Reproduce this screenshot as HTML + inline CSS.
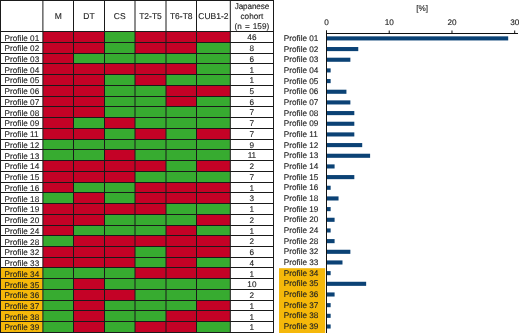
<!DOCTYPE html>
<html><head><meta charset="utf-8"><style>
html,body{margin:0;padding:0;background:#fff;}
body{width:520px;height:333px;overflow:hidden;}
svg{display:block;will-change:transform;}
text{font-family:"Liberation Sans",sans-serif;font-size:8.2px;fill:#222;stroke:#222;stroke-width:0.12px;text-rendering:geometricPrecision;}
</style></head><body>
<svg width="520" height="333" viewBox="0 0 520 333">
<g>
<rect width="520" height="333" fill="#fff"/>
<rect x="0.5" y="31.7" width="42.4" height="10.74" fill="#fff"/>
<rect x="42.9" y="31.7" width="30.6" height="10.74" fill="#c40226"/>
<rect x="73.5" y="31.7" width="31" height="10.74" fill="#c40226"/>
<rect x="104.5" y="31.7" width="30.5" height="10.74" fill="#37ab30"/>
<rect x="135" y="31.7" width="31" height="10.74" fill="#c40226"/>
<rect x="166" y="31.7" width="30.5" height="10.74" fill="#c40226"/>
<rect x="196.5" y="31.7" width="33.8" height="10.74" fill="#c40226"/>
<rect x="0.5" y="42.44" width="42.4" height="10.74" fill="#fff"/>
<rect x="42.9" y="42.44" width="30.6" height="10.74" fill="#c40226"/>
<rect x="73.5" y="42.44" width="31" height="10.74" fill="#c40226"/>
<rect x="104.5" y="42.44" width="30.5" height="10.74" fill="#37ab30"/>
<rect x="135" y="42.44" width="31" height="10.74" fill="#c40226"/>
<rect x="166" y="42.44" width="30.5" height="10.74" fill="#c40226"/>
<rect x="196.5" y="42.44" width="33.8" height="10.74" fill="#37ab30"/>
<rect x="0.5" y="53.18" width="42.4" height="10.74" fill="#fff"/>
<rect x="42.9" y="53.18" width="30.6" height="10.74" fill="#c40226"/>
<rect x="73.5" y="53.18" width="31" height="10.74" fill="#37ab30"/>
<rect x="104.5" y="53.18" width="30.5" height="10.74" fill="#37ab30"/>
<rect x="135" y="53.18" width="31" height="10.74" fill="#37ab30"/>
<rect x="166" y="53.18" width="30.5" height="10.74" fill="#37ab30"/>
<rect x="196.5" y="53.18" width="33.8" height="10.74" fill="#37ab30"/>
<rect x="0.5" y="63.92" width="42.4" height="10.74" fill="#fff"/>
<rect x="42.9" y="63.92" width="30.6" height="10.74" fill="#c40226"/>
<rect x="73.5" y="63.92" width="31" height="10.74" fill="#c40226"/>
<rect x="104.5" y="63.92" width="30.5" height="10.74" fill="#c40226"/>
<rect x="135" y="63.92" width="31" height="10.74" fill="#c40226"/>
<rect x="166" y="63.92" width="30.5" height="10.74" fill="#c40226"/>
<rect x="196.5" y="63.92" width="33.8" height="10.74" fill="#37ab30"/>
<rect x="0.5" y="74.66" width="42.4" height="10.74" fill="#fff"/>
<rect x="42.9" y="74.66" width="30.6" height="10.74" fill="#c40226"/>
<rect x="73.5" y="74.66" width="31" height="10.74" fill="#c40226"/>
<rect x="104.5" y="74.66" width="30.5" height="10.74" fill="#37ab30"/>
<rect x="135" y="74.66" width="31" height="10.74" fill="#c40226"/>
<rect x="166" y="74.66" width="30.5" height="10.74" fill="#37ab30"/>
<rect x="196.5" y="74.66" width="33.8" height="10.74" fill="#37ab30"/>
<rect x="0.5" y="85.4" width="42.4" height="10.74" fill="#fff"/>
<rect x="42.9" y="85.4" width="30.6" height="10.74" fill="#c40226"/>
<rect x="73.5" y="85.4" width="31" height="10.74" fill="#c40226"/>
<rect x="104.5" y="85.4" width="30.5" height="10.74" fill="#37ab30"/>
<rect x="135" y="85.4" width="31" height="10.74" fill="#37ab30"/>
<rect x="166" y="85.4" width="30.5" height="10.74" fill="#c40226"/>
<rect x="196.5" y="85.4" width="33.8" height="10.74" fill="#c40226"/>
<rect x="0.5" y="96.14" width="42.4" height="10.74" fill="#fff"/>
<rect x="42.9" y="96.14" width="30.6" height="10.74" fill="#c40226"/>
<rect x="73.5" y="96.14" width="31" height="10.74" fill="#c40226"/>
<rect x="104.5" y="96.14" width="30.5" height="10.74" fill="#37ab30"/>
<rect x="135" y="96.14" width="31" height="10.74" fill="#37ab30"/>
<rect x="166" y="96.14" width="30.5" height="10.74" fill="#c40226"/>
<rect x="196.5" y="96.14" width="33.8" height="10.74" fill="#37ab30"/>
<rect x="0.5" y="106.88" width="42.4" height="10.74" fill="#fff"/>
<rect x="42.9" y="106.88" width="30.6" height="10.74" fill="#c40226"/>
<rect x="73.5" y="106.88" width="31" height="10.74" fill="#c40226"/>
<rect x="104.5" y="106.88" width="30.5" height="10.74" fill="#37ab30"/>
<rect x="135" y="106.88" width="31" height="10.74" fill="#37ab30"/>
<rect x="166" y="106.88" width="30.5" height="10.74" fill="#37ab30"/>
<rect x="196.5" y="106.88" width="33.8" height="10.74" fill="#37ab30"/>
<rect x="0.5" y="117.62" width="42.4" height="10.74" fill="#fff"/>
<rect x="42.9" y="117.62" width="30.6" height="10.74" fill="#c40226"/>
<rect x="73.5" y="117.62" width="31" height="10.74" fill="#37ab30"/>
<rect x="104.5" y="117.62" width="30.5" height="10.74" fill="#c40226"/>
<rect x="135" y="117.62" width="31" height="10.74" fill="#37ab30"/>
<rect x="166" y="117.62" width="30.5" height="10.74" fill="#37ab30"/>
<rect x="196.5" y="117.62" width="33.8" height="10.74" fill="#37ab30"/>
<rect x="0.5" y="128.36" width="42.4" height="10.74" fill="#fff"/>
<rect x="42.9" y="128.36" width="30.6" height="10.74" fill="#c40226"/>
<rect x="73.5" y="128.36" width="31" height="10.74" fill="#c40226"/>
<rect x="104.5" y="128.36" width="30.5" height="10.74" fill="#37ab30"/>
<rect x="135" y="128.36" width="31" height="10.74" fill="#c40226"/>
<rect x="166" y="128.36" width="30.5" height="10.74" fill="#37ab30"/>
<rect x="196.5" y="128.36" width="33.8" height="10.74" fill="#c40226"/>
<rect x="0.5" y="139.1" width="42.4" height="10.74" fill="#fff"/>
<rect x="42.9" y="139.1" width="30.6" height="10.74" fill="#37ab30"/>
<rect x="73.5" y="139.1" width="31" height="10.74" fill="#37ab30"/>
<rect x="104.5" y="139.1" width="30.5" height="10.74" fill="#37ab30"/>
<rect x="135" y="139.1" width="31" height="10.74" fill="#37ab30"/>
<rect x="166" y="139.1" width="30.5" height="10.74" fill="#37ab30"/>
<rect x="196.5" y="139.1" width="33.8" height="10.74" fill="#37ab30"/>
<rect x="0.5" y="149.84" width="42.4" height="10.74" fill="#fff"/>
<rect x="42.9" y="149.84" width="30.6" height="10.74" fill="#37ab30"/>
<rect x="73.5" y="149.84" width="31" height="10.74" fill="#37ab30"/>
<rect x="104.5" y="149.84" width="30.5" height="10.74" fill="#c40226"/>
<rect x="135" y="149.84" width="31" height="10.74" fill="#37ab30"/>
<rect x="166" y="149.84" width="30.5" height="10.74" fill="#37ab30"/>
<rect x="196.5" y="149.84" width="33.8" height="10.74" fill="#37ab30"/>
<rect x="0.5" y="160.58" width="42.4" height="10.74" fill="#fff"/>
<rect x="42.9" y="160.58" width="30.6" height="10.74" fill="#c40226"/>
<rect x="73.5" y="160.58" width="31" height="10.74" fill="#c40226"/>
<rect x="104.5" y="160.58" width="30.5" height="10.74" fill="#c40226"/>
<rect x="135" y="160.58" width="31" height="10.74" fill="#c40226"/>
<rect x="166" y="160.58" width="30.5" height="10.74" fill="#37ab30"/>
<rect x="196.5" y="160.58" width="33.8" height="10.74" fill="#c40226"/>
<rect x="0.5" y="171.32" width="42.4" height="10.74" fill="#fff"/>
<rect x="42.9" y="171.32" width="30.6" height="10.74" fill="#c40226"/>
<rect x="73.5" y="171.32" width="31" height="10.74" fill="#c40226"/>
<rect x="104.5" y="171.32" width="30.5" height="10.74" fill="#c40226"/>
<rect x="135" y="171.32" width="31" height="10.74" fill="#37ab30"/>
<rect x="166" y="171.32" width="30.5" height="10.74" fill="#37ab30"/>
<rect x="196.5" y="171.32" width="33.8" height="10.74" fill="#37ab30"/>
<rect x="0.5" y="182.06" width="42.4" height="10.74" fill="#fff"/>
<rect x="42.9" y="182.06" width="30.6" height="10.74" fill="#c40226"/>
<rect x="73.5" y="182.06" width="31" height="10.74" fill="#37ab30"/>
<rect x="104.5" y="182.06" width="30.5" height="10.74" fill="#37ab30"/>
<rect x="135" y="182.06" width="31" height="10.74" fill="#c40226"/>
<rect x="166" y="182.06" width="30.5" height="10.74" fill="#c40226"/>
<rect x="196.5" y="182.06" width="33.8" height="10.74" fill="#c40226"/>
<rect x="0.5" y="192.8" width="42.4" height="10.74" fill="#fff"/>
<rect x="42.9" y="192.8" width="30.6" height="10.74" fill="#37ab30"/>
<rect x="73.5" y="192.8" width="31" height="10.74" fill="#c40226"/>
<rect x="104.5" y="192.8" width="30.5" height="10.74" fill="#37ab30"/>
<rect x="135" y="192.8" width="31" height="10.74" fill="#c40226"/>
<rect x="166" y="192.8" width="30.5" height="10.74" fill="#c40226"/>
<rect x="196.5" y="192.8" width="33.8" height="10.74" fill="#c40226"/>
<rect x="0.5" y="203.54" width="42.4" height="10.74" fill="#fff"/>
<rect x="42.9" y="203.54" width="30.6" height="10.74" fill="#c40226"/>
<rect x="73.5" y="203.54" width="31" height="10.74" fill="#c40226"/>
<rect x="104.5" y="203.54" width="30.5" height="10.74" fill="#c40226"/>
<rect x="135" y="203.54" width="31" height="10.74" fill="#c40226"/>
<rect x="166" y="203.54" width="30.5" height="10.74" fill="#37ab30"/>
<rect x="196.5" y="203.54" width="33.8" height="10.74" fill="#37ab30"/>
<rect x="0.5" y="214.28" width="42.4" height="10.74" fill="#fff"/>
<rect x="42.9" y="214.28" width="30.6" height="10.74" fill="#c40226"/>
<rect x="73.5" y="214.28" width="31" height="10.74" fill="#c40226"/>
<rect x="104.5" y="214.28" width="30.5" height="10.74" fill="#37ab30"/>
<rect x="135" y="214.28" width="31" height="10.74" fill="#37ab30"/>
<rect x="166" y="214.28" width="30.5" height="10.74" fill="#37ab30"/>
<rect x="196.5" y="214.28" width="33.8" height="10.74" fill="#c40226"/>
<rect x="0.5" y="225.02" width="42.4" height="10.74" fill="#fff"/>
<rect x="42.9" y="225.02" width="30.6" height="10.74" fill="#c40226"/>
<rect x="73.5" y="225.02" width="31" height="10.74" fill="#37ab30"/>
<rect x="104.5" y="225.02" width="30.5" height="10.74" fill="#37ab30"/>
<rect x="135" y="225.02" width="31" height="10.74" fill="#37ab30"/>
<rect x="166" y="225.02" width="30.5" height="10.74" fill="#c40226"/>
<rect x="196.5" y="225.02" width="33.8" height="10.74" fill="#37ab30"/>
<rect x="0.5" y="235.76" width="42.4" height="10.74" fill="#fff"/>
<rect x="42.9" y="235.76" width="30.6" height="10.74" fill="#37ab30"/>
<rect x="73.5" y="235.76" width="31" height="10.74" fill="#c40226"/>
<rect x="104.5" y="235.76" width="30.5" height="10.74" fill="#c40226"/>
<rect x="135" y="235.76" width="31" height="10.74" fill="#c40226"/>
<rect x="166" y="235.76" width="30.5" height="10.74" fill="#c40226"/>
<rect x="196.5" y="235.76" width="33.8" height="10.74" fill="#c40226"/>
<rect x="0.5" y="246.5" width="42.4" height="10.74" fill="#fff"/>
<rect x="42.9" y="246.5" width="30.6" height="10.74" fill="#c40226"/>
<rect x="73.5" y="246.5" width="31" height="10.74" fill="#c40226"/>
<rect x="104.5" y="246.5" width="30.5" height="10.74" fill="#c40226"/>
<rect x="135" y="246.5" width="31" height="10.74" fill="#37ab30"/>
<rect x="166" y="246.5" width="30.5" height="10.74" fill="#c40226"/>
<rect x="196.5" y="246.5" width="33.8" height="10.74" fill="#c40226"/>
<rect x="0.5" y="257.24" width="42.4" height="10.74" fill="#fff"/>
<rect x="42.9" y="257.24" width="30.6" height="10.74" fill="#c40226"/>
<rect x="73.5" y="257.24" width="31" height="10.74" fill="#c40226"/>
<rect x="104.5" y="257.24" width="30.5" height="10.74" fill="#c40226"/>
<rect x="135" y="257.24" width="31" height="10.74" fill="#37ab30"/>
<rect x="166" y="257.24" width="30.5" height="10.74" fill="#c40226"/>
<rect x="196.5" y="257.24" width="33.8" height="10.74" fill="#37ab30"/>
<rect x="0.5" y="267.98" width="42.4" height="10.74" fill="#f5b80a"/>
<rect x="42.9" y="267.98" width="30.6" height="10.74" fill="#37ab30"/>
<rect x="73.5" y="267.98" width="31" height="10.74" fill="#37ab30"/>
<rect x="104.5" y="267.98" width="30.5" height="10.74" fill="#37ab30"/>
<rect x="135" y="267.98" width="31" height="10.74" fill="#c40226"/>
<rect x="166" y="267.98" width="30.5" height="10.74" fill="#c40226"/>
<rect x="196.5" y="267.98" width="33.8" height="10.74" fill="#c40226"/>
<rect x="0.5" y="278.72" width="42.4" height="10.74" fill="#f5b80a"/>
<rect x="42.9" y="278.72" width="30.6" height="10.74" fill="#37ab30"/>
<rect x="73.5" y="278.72" width="31" height="10.74" fill="#c40226"/>
<rect x="104.5" y="278.72" width="30.5" height="10.74" fill="#37ab30"/>
<rect x="135" y="278.72" width="31" height="10.74" fill="#37ab30"/>
<rect x="166" y="278.72" width="30.5" height="10.74" fill="#37ab30"/>
<rect x="196.5" y="278.72" width="33.8" height="10.74" fill="#37ab30"/>
<rect x="0.5" y="289.46" width="42.4" height="10.74" fill="#f5b80a"/>
<rect x="42.9" y="289.46" width="30.6" height="10.74" fill="#37ab30"/>
<rect x="73.5" y="289.46" width="31" height="10.74" fill="#c40226"/>
<rect x="104.5" y="289.46" width="30.5" height="10.74" fill="#c40226"/>
<rect x="135" y="289.46" width="31" height="10.74" fill="#37ab30"/>
<rect x="166" y="289.46" width="30.5" height="10.74" fill="#37ab30"/>
<rect x="196.5" y="289.46" width="33.8" height="10.74" fill="#37ab30"/>
<rect x="0.5" y="300.2" width="42.4" height="10.74" fill="#f5b80a"/>
<rect x="42.9" y="300.2" width="30.6" height="10.74" fill="#37ab30"/>
<rect x="73.5" y="300.2" width="31" height="10.74" fill="#c40226"/>
<rect x="104.5" y="300.2" width="30.5" height="10.74" fill="#37ab30"/>
<rect x="135" y="300.2" width="31" height="10.74" fill="#37ab30"/>
<rect x="166" y="300.2" width="30.5" height="10.74" fill="#37ab30"/>
<rect x="196.5" y="300.2" width="33.8" height="10.74" fill="#c40226"/>
<rect x="0.5" y="310.94" width="42.4" height="10.74" fill="#f5b80a"/>
<rect x="42.9" y="310.94" width="30.6" height="10.74" fill="#37ab30"/>
<rect x="73.5" y="310.94" width="31" height="10.74" fill="#c40226"/>
<rect x="104.5" y="310.94" width="30.5" height="10.74" fill="#37ab30"/>
<rect x="135" y="310.94" width="31" height="10.74" fill="#37ab30"/>
<rect x="166" y="310.94" width="30.5" height="10.74" fill="#c40226"/>
<rect x="196.5" y="310.94" width="33.8" height="10.74" fill="#c40226"/>
<rect x="0.5" y="321.68" width="42.4" height="10.74" fill="#f5b80a"/>
<rect x="42.9" y="321.68" width="30.6" height="10.74" fill="#37ab30"/>
<rect x="73.5" y="321.68" width="31" height="10.74" fill="#c40226"/>
<rect x="104.5" y="321.68" width="30.5" height="10.74" fill="#37ab30"/>
<rect x="135" y="321.68" width="31" height="10.74" fill="#c40226"/>
<rect x="166" y="321.68" width="30.5" height="10.74" fill="#c40226"/>
<rect x="196.5" y="321.68" width="33.8" height="10.74" fill="#37ab30"/>
<line x1="0" x2="274" y1="31.5" y2="31.5" stroke="#1a1a1a" stroke-width="1"/>
<line x1="0" x2="274" y1="42.5" y2="42.5" stroke="#1a1a1a" stroke-width="1"/>
<line x1="0" x2="274" y1="53.5" y2="53.5" stroke="#1a1a1a" stroke-width="1"/>
<line x1="0" x2="274" y1="63.5" y2="63.5" stroke="#1a1a1a" stroke-width="1"/>
<line x1="0" x2="274" y1="74.5" y2="74.5" stroke="#1a1a1a" stroke-width="1"/>
<line x1="0" x2="274" y1="85.5" y2="85.5" stroke="#1a1a1a" stroke-width="1"/>
<line x1="0" x2="274" y1="96.5" y2="96.5" stroke="#1a1a1a" stroke-width="1"/>
<line x1="0" x2="274" y1="106.5" y2="106.5" stroke="#1a1a1a" stroke-width="1"/>
<line x1="0" x2="274" y1="117.5" y2="117.5" stroke="#1a1a1a" stroke-width="1"/>
<line x1="0" x2="274" y1="128.5" y2="128.5" stroke="#1a1a1a" stroke-width="1"/>
<line x1="0" x2="274" y1="139.5" y2="139.5" stroke="#1a1a1a" stroke-width="1"/>
<line x1="0" x2="274" y1="149.5" y2="149.5" stroke="#1a1a1a" stroke-width="1"/>
<line x1="0" x2="274" y1="160.5" y2="160.5" stroke="#1a1a1a" stroke-width="1"/>
<line x1="0" x2="274" y1="171.5" y2="171.5" stroke="#1a1a1a" stroke-width="1"/>
<line x1="0" x2="274" y1="182.5" y2="182.5" stroke="#1a1a1a" stroke-width="1"/>
<line x1="0" x2="274" y1="192.5" y2="192.5" stroke="#1a1a1a" stroke-width="1"/>
<line x1="0" x2="274" y1="203.5" y2="203.5" stroke="#1a1a1a" stroke-width="1"/>
<line x1="0" x2="274" y1="214.5" y2="214.5" stroke="#1a1a1a" stroke-width="1"/>
<line x1="0" x2="274" y1="225.5" y2="225.5" stroke="#1a1a1a" stroke-width="1"/>
<line x1="0" x2="274" y1="235.5" y2="235.5" stroke="#1a1a1a" stroke-width="1"/>
<line x1="0" x2="274" y1="246.5" y2="246.5" stroke="#1a1a1a" stroke-width="1"/>
<line x1="0" x2="274" y1="257.5" y2="257.5" stroke="#1a1a1a" stroke-width="1"/>
<line x1="0" x2="274" y1="267.5" y2="267.5" stroke="#1a1a1a" stroke-width="1"/>
<line x1="0" x2="274" y1="278.5" y2="278.5" stroke="#1a1a1a" stroke-width="1"/>
<line x1="0" x2="274" y1="289.5" y2="289.5" stroke="#1a1a1a" stroke-width="1"/>
<line x1="0" x2="274" y1="300.5" y2="300.5" stroke="#1a1a1a" stroke-width="1"/>
<line x1="0" x2="274" y1="310.5" y2="310.5" stroke="#1a1a1a" stroke-width="1"/>
<line x1="0" x2="274" y1="321.5" y2="321.5" stroke="#1a1a1a" stroke-width="1"/>
<line x1="0" x2="274" y1="332.5" y2="332.5" stroke="#1a1a1a" stroke-width="1"/>
<line x1="0" x2="274" y1="0.5" y2="0.5" stroke="#1a1a1a" stroke-width="1"/>
<line x1="0.5" x2="0.5" y1="0" y2="332.92" stroke="#1a1a1a" stroke-width="1"/>
<line x1="42.9" x2="42.9" y1="0" y2="332.92" stroke="#1a1a1a" stroke-width="1"/>
<line x1="73.5" x2="73.5" y1="0" y2="332.92" stroke="#1a1a1a" stroke-width="1"/>
<line x1="104.5" x2="104.5" y1="0" y2="332.92" stroke="#1a1a1a" stroke-width="1"/>
<line x1="135" x2="135" y1="0" y2="332.92" stroke="#1a1a1a" stroke-width="1"/>
<line x1="166" x2="166" y1="0" y2="332.92" stroke="#1a1a1a" stroke-width="1"/>
<line x1="196.5" x2="196.5" y1="0" y2="332.92" stroke="#1a1a1a" stroke-width="1"/>
<line x1="230.3" x2="230.3" y1="0" y2="332.92" stroke="#1a1a1a" stroke-width="1"/>
<line x1="273.5" x2="273.5" y1="0" y2="332.92" stroke="#1a1a1a" stroke-width="1"/>
<text x="58.2" y="18.9" text-anchor="middle" style="font-size:8.5px">M</text>
<text x="89" y="18.9" text-anchor="middle" style="font-size:8.5px">DT</text>
<text x="119.75" y="18.9" text-anchor="middle" style="font-size:8.5px">CS</text>
<text x="150.5" y="18.9" text-anchor="middle" style="font-size:8.5px">T2-T5</text>
<text x="181.25" y="18.9" text-anchor="middle" style="font-size:8.5px">T6-T8</text>
<text x="213.4" y="18.9" text-anchor="middle" style="font-size:8.5px">CUB1-2</text>
<text x="251.9" y="8.7" text-anchor="middle" style="letter-spacing:-0.15px">Japanese</text>
<text x="251.9" y="18.75" text-anchor="middle">cohort</text>
<text x="251.9" y="28.8" text-anchor="middle" style="word-spacing:0.8px">(n = 159)</text>
<text x="4.6" y="40.5">Profile 01</text>
<text x="251.9" y="40.3" text-anchor="middle">46</text>
<text x="4.6" y="51.24">Profile 02</text>
<text x="251.9" y="51.04" text-anchor="middle">8</text>
<text x="4.6" y="61.98">Profile 03</text>
<text x="251.9" y="61.78" text-anchor="middle">6</text>
<text x="4.6" y="72.72">Profile 04</text>
<text x="251.9" y="72.52" text-anchor="middle">1</text>
<text x="4.6" y="83.46">Profile 05</text>
<text x="251.9" y="83.26" text-anchor="middle">1</text>
<text x="4.6" y="94.2">Profile 06</text>
<text x="251.9" y="94" text-anchor="middle">5</text>
<text x="4.6" y="104.94">Profile 07</text>
<text x="251.9" y="104.74" text-anchor="middle">6</text>
<text x="4.6" y="115.68">Profile 08</text>
<text x="251.9" y="115.48" text-anchor="middle">7</text>
<text x="4.6" y="126.42">Profile 09</text>
<text x="251.9" y="126.22" text-anchor="middle">7</text>
<text x="4.6" y="137.16">Profile 11</text>
<text x="251.9" y="136.96" text-anchor="middle">7</text>
<text x="4.6" y="147.9">Profile 12</text>
<text x="251.9" y="147.7" text-anchor="middle">9</text>
<text x="4.6" y="158.64">Profile 13</text>
<text x="251.9" y="158.44" text-anchor="middle">11</text>
<text x="4.6" y="169.38">Profile 14</text>
<text x="251.9" y="169.18" text-anchor="middle">2</text>
<text x="4.6" y="180.12">Profile 15</text>
<text x="251.9" y="179.92" text-anchor="middle">7</text>
<text x="4.6" y="190.86">Profile 16</text>
<text x="251.9" y="190.66" text-anchor="middle">1</text>
<text x="4.6" y="201.6">Profile 18</text>
<text x="251.9" y="201.4" text-anchor="middle">3</text>
<text x="4.6" y="212.34">Profile 19</text>
<text x="251.9" y="212.14" text-anchor="middle">1</text>
<text x="4.6" y="223.08">Profile 20</text>
<text x="251.9" y="222.88" text-anchor="middle">2</text>
<text x="4.6" y="233.82">Profile 24</text>
<text x="251.9" y="233.62" text-anchor="middle">1</text>
<text x="4.6" y="244.56">Profile 28</text>
<text x="251.9" y="244.36" text-anchor="middle">2</text>
<text x="4.6" y="255.3">Profile 32</text>
<text x="251.9" y="255.1" text-anchor="middle">6</text>
<text x="4.6" y="266.04">Profile 33</text>
<text x="251.9" y="265.84" text-anchor="middle">4</text>
<text x="4.6" y="276.78">Profile 34</text>
<text x="251.9" y="276.58" text-anchor="middle">1</text>
<text x="4.6" y="287.52">Profile 35</text>
<text x="251.9" y="287.32" text-anchor="middle">10</text>
<text x="4.6" y="298.26">Profile 36</text>
<text x="251.9" y="298.06" text-anchor="middle">2</text>
<text x="4.6" y="309">Profile 37</text>
<text x="251.9" y="308.8" text-anchor="middle">1</text>
<text x="4.6" y="319.74">Profile 38</text>
<text x="251.9" y="319.54" text-anchor="middle">1</text>
<text x="4.6" y="330.48">Profile 39</text>
<text x="251.9" y="330.28" text-anchor="middle">1</text>
<rect x="279" y="268.2" width="46.2" height="65" fill="#f5b80a"/>
<rect x="326.7" y="36.35" width="181.49" height="4.1" fill="#0b4275"/>
<text x="283.8" y="40.9">Profile 01</text>
<rect x="326.7" y="47.02" width="31.56" height="4.1" fill="#0b4275"/>
<text x="283.8" y="51.57">Profile 02</text>
<rect x="326.7" y="57.69" width="23.67" height="4.1" fill="#0b4275"/>
<text x="283.8" y="62.24">Profile 03</text>
<rect x="326.7" y="68.36" width="3.95" height="4.1" fill="#0b4275"/>
<text x="283.8" y="72.91">Profile 04</text>
<rect x="326.7" y="79.03" width="3.95" height="4.1" fill="#0b4275"/>
<text x="283.8" y="83.58">Profile 05</text>
<rect x="326.7" y="89.7" width="19.73" height="4.1" fill="#0b4275"/>
<text x="283.8" y="94.25">Profile 06</text>
<rect x="326.7" y="100.37" width="23.67" height="4.1" fill="#0b4275"/>
<text x="283.8" y="104.92">Profile 07</text>
<rect x="326.7" y="111.04" width="27.62" height="4.1" fill="#0b4275"/>
<text x="283.8" y="115.59">Profile 08</text>
<rect x="326.7" y="121.71" width="27.62" height="4.1" fill="#0b4275"/>
<text x="283.8" y="126.26">Profile 09</text>
<rect x="326.7" y="132.38" width="27.62" height="4.1" fill="#0b4275"/>
<text x="283.8" y="136.93">Profile 11</text>
<rect x="326.7" y="143.05" width="35.51" height="4.1" fill="#0b4275"/>
<text x="283.8" y="147.6">Profile 12</text>
<rect x="326.7" y="153.72" width="43.4" height="4.1" fill="#0b4275"/>
<text x="283.8" y="158.27">Profile 13</text>
<rect x="326.7" y="164.39" width="7.89" height="4.1" fill="#0b4275"/>
<text x="283.8" y="168.94">Profile 14</text>
<rect x="326.7" y="175.06" width="27.62" height="4.1" fill="#0b4275"/>
<text x="283.8" y="179.61">Profile 15</text>
<rect x="326.7" y="185.73" width="3.95" height="4.1" fill="#0b4275"/>
<text x="283.8" y="190.28">Profile 16</text>
<rect x="326.7" y="196.4" width="11.84" height="4.1" fill="#0b4275"/>
<text x="283.8" y="200.95">Profile 18</text>
<rect x="326.7" y="207.07" width="3.95" height="4.1" fill="#0b4275"/>
<text x="283.8" y="211.62">Profile 19</text>
<rect x="326.7" y="217.74" width="7.89" height="4.1" fill="#0b4275"/>
<text x="283.8" y="222.29">Profile 20</text>
<rect x="326.7" y="228.41" width="3.95" height="4.1" fill="#0b4275"/>
<text x="283.8" y="232.96">Profile 24</text>
<rect x="326.7" y="239.08" width="7.89" height="4.1" fill="#0b4275"/>
<text x="283.8" y="243.63">Profile 28</text>
<rect x="326.7" y="249.75" width="23.67" height="4.1" fill="#0b4275"/>
<text x="283.8" y="254.3">Profile 32</text>
<rect x="326.7" y="260.42" width="15.78" height="4.1" fill="#0b4275"/>
<text x="283.8" y="264.97">Profile 33</text>
<rect x="326.7" y="271.09" width="3.95" height="4.1" fill="#0b4275"/>
<text x="283.8" y="275.64">Profile 34</text>
<rect x="326.7" y="281.76" width="39.45" height="4.1" fill="#0b4275"/>
<text x="283.8" y="286.31">Profile 35</text>
<rect x="326.7" y="292.43" width="7.89" height="4.1" fill="#0b4275"/>
<text x="283.8" y="296.98">Profile 36</text>
<rect x="326.7" y="303.1" width="3.95" height="4.1" fill="#0b4275"/>
<text x="283.8" y="307.65">Profile 37</text>
<rect x="326.7" y="313.77" width="3.95" height="4.1" fill="#0b4275"/>
<text x="283.8" y="318.32">Profile 38</text>
<rect x="326.7" y="324.44" width="3.95" height="4.1" fill="#0b4275"/>
<text x="283.8" y="328.99">Profile 39</text>
<line x1="326.5" x2="518" y1="33.5" y2="33.5" stroke="#111" stroke-width="1"/>
<line x1="326.5" x2="326.5" y1="30.5" y2="333" stroke="#111" stroke-width="1"/>
<line x1="326.5" x2="326.5" y1="30.5" y2="33.5" stroke="#111" stroke-width="1"/>
<text x="326.5" y="24.5" text-anchor="middle">0</text>
<line x1="389.23" x2="389.23" y1="30.5" y2="33.5" stroke="#111" stroke-width="1"/>
<text x="389.23" y="24.5" text-anchor="middle">10</text>
<line x1="451.97" x2="451.97" y1="30.5" y2="33.5" stroke="#111" stroke-width="1"/>
<text x="451.97" y="24.5" text-anchor="middle">20</text>
<line x1="514.7" x2="514.7" y1="30.5" y2="33.5" stroke="#111" stroke-width="1"/>
<text x="514.7" y="24.5" text-anchor="middle">30</text>
<text x="422.2" y="11.1" text-anchor="middle">[%]</text>
</g>
</svg>
</body></html>
